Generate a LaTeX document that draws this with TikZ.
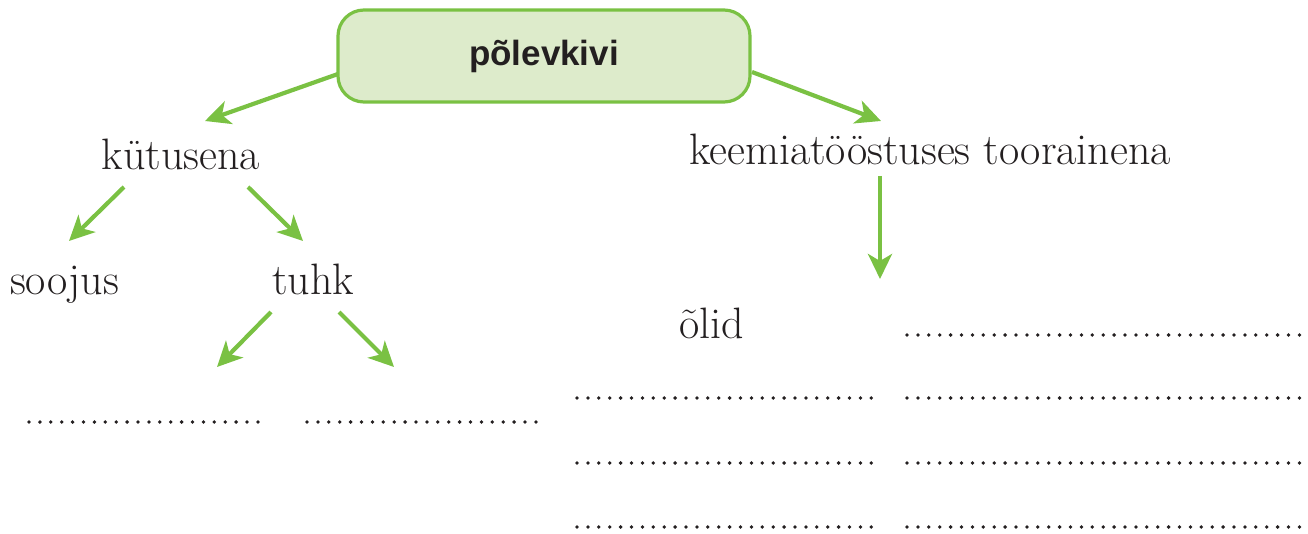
\documentclass[tikz,border=0pt]{standalone}
\usepackage{fontspec}
\newfontfamily\boxfont{Liberation Sans}
\usetikzlibrary{arrows.meta}
\definecolor{lgreen}{HTML}{7AC143}
\definecolor{boxfill}{HTML}{DDEBCB}
\definecolor{ink}{HTML}{231F20}
\tikzset{
  arr/.style={draw=lgreen, line width=4.2pt, -{Stealth[length=25pt,width=24pt,inset=7pt]}},
  lbl/.style={text=ink, font=\fontsize{44}{52}\selectfont, inner sep=0pt, anchor=base},
  dots/.style={draw=ink, line width=3.8pt, line cap=round, dash pattern=on 0pt off 10.9pt},
  topbox/.style={draw=lgreen, fill=boxfill, line width=3.2pt, rounded corners=26pt,
    minimum width=412pt, minimum height=92pt, inner sep=0pt,
    font=\boxfont\bfseries\fontsize{35}{40}\selectfont, text=ink}
}
\begin{document}
\begin{tikzpicture}[x=1pt,y=-1pt]
\useasboundingbox (0,0) rectangle (1308,534);
\node[topbox] (box) at (544,56) {põlevkivi};
\node[lbl] (kut) at (181,170) {kütusena};
\node[lbl] (kee) at (930,165) {keemiatööstuses toorainena};
\node[lbl, anchor=base west] (soo) at (10,295) {soojus};
\node[lbl, anchor=base west] (tuhk) at (272,295) {tuhk};
\node[lbl, anchor=base west] (olid) at (679,338) {õlid};
% arrow end points
\coordinate (a1s) at (338,74);
\coordinate (a1e) at (205,121);
\coordinate (a2s) at (752,72);
\coordinate (a2e) at (881,121);
\coordinate (k1s) at (124,187);
\coordinate (k1e) at (69,241);
\coordinate (k2s) at (248,187);
\coordinate (k2e) at (303,241);
\coordinate (t1s) at (271,312);
\coordinate (t1e) at (217,367);
\coordinate (t2s) at (339,312);
\coordinate (t2e) at (394,367);
\coordinate (c1s) at (880,176);
\coordinate (c1e) at (880,279);
\draw[arr] (a1s) -- (a1e);
\draw[arr] (a2s) -- (a2e);
\draw[arr] (k1s) -- (k1e);
\draw[arr] (k2s) -- (k2e);
\draw[arr] (t1s) -- (t1e);
\draw[arr] (t2s) -- (t2e);
\draw[arr] (c1s) -- (c1e);
% answer lines
\draw[dots] (29,422) -- (266,422);
\draw[dots] (307,422) -- (544,422);
\draw[dots] (907,335) -- (1300,335);
\foreach \yy in {398,463,527}{
  \draw[dots] (577,\yy) -- (880,\yy);
  \draw[dots] (907,\yy) -- (1300,\yy);
}
\end{tikzpicture}
\end{document}
